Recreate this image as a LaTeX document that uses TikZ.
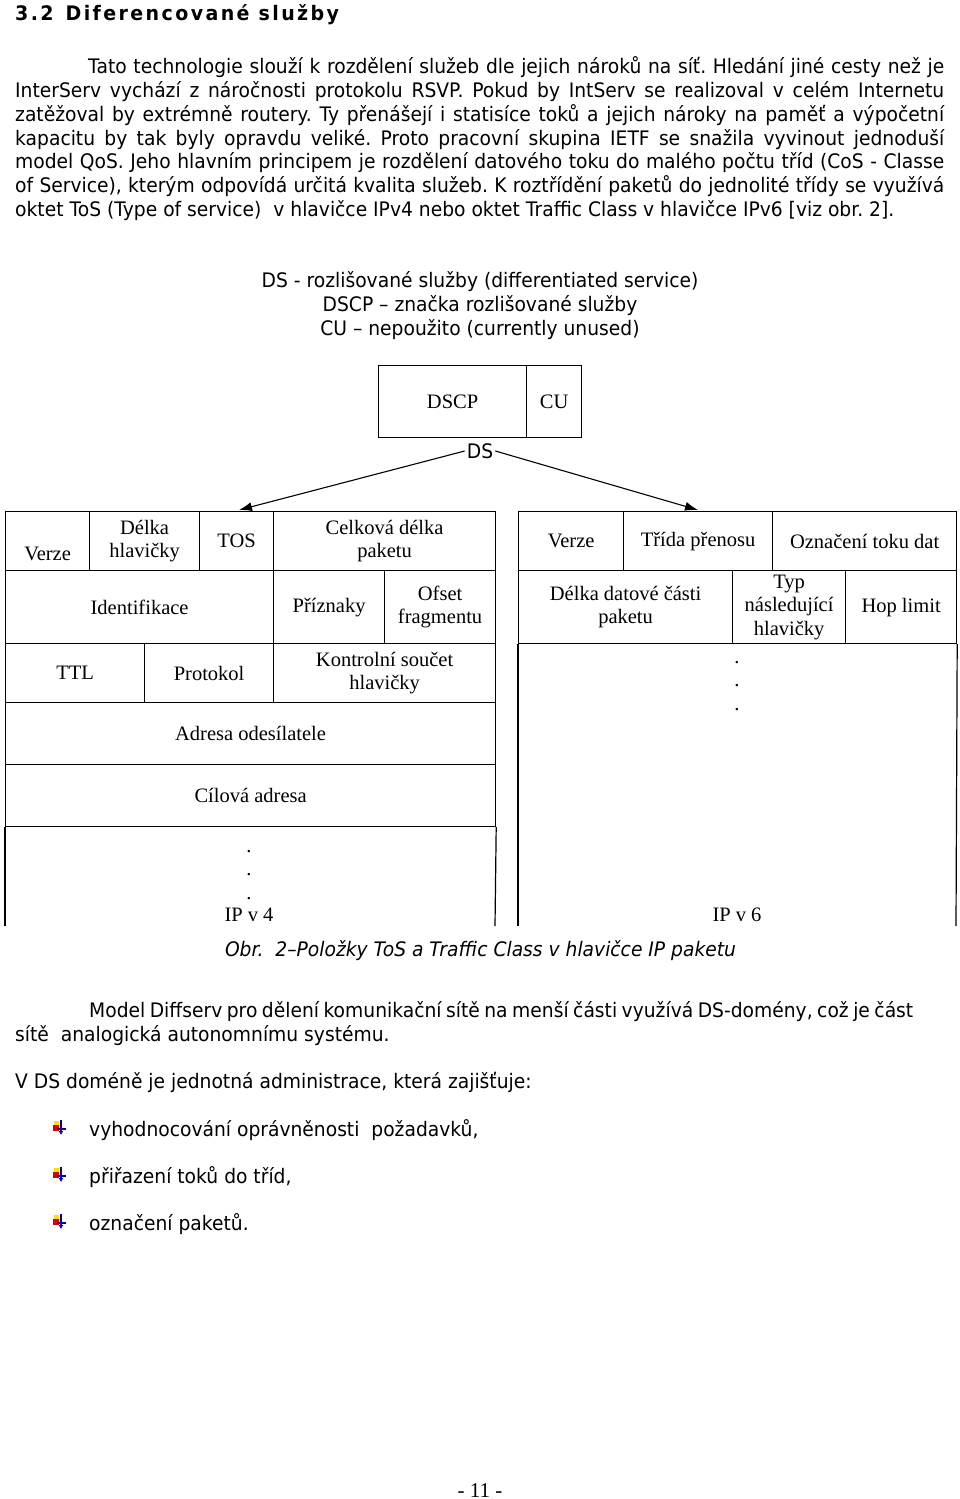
\documentclass[tikz,border=0pt]{standalone}
\usepackage{fontspec}
\setmainfont{Liberation Serif}
\newfontfamily\bodyf[FakeStretch=0.935]{DejaVu Sans}
\newfontfamily\headf[FakeStretch=0.95,LetterSpace=12]{DejaVu Sans}
\usetikzlibrary{arrows.meta}
\newcommand\bsz{\bodyf\fontsize{20}{23}\selectfont\frenchspacing}
\newcommand\ssz{\fontsize{20.5}{23.5}\selectfont}
\newcommand\bulleticon[1]{%
  \fill[yellow!85!orange] (54,#1-8) rectangle (59,#1-3);
  \fill[red!85!black] (53,#1-4) rectangle (59,#1+2);
  \draw[blue!70!black, line width=1.2pt] (57,#1) -- (66,#1);
  \draw[blue!70!black, line width=1.6pt, -{Latex[length=4pt,width=5pt]}] (61,#1-9) -- (61,#1+6);
}
\begin{document}
\begin{tikzpicture}[x=1pt,y=-1pt,
  body/.style={anchor=base west, inner sep=0, font=\bsz},
  legend/.style={anchor=base, inner sep=0, font=\bsz},
  cellb/.style={draw, line width=1.2pt, anchor=north west, inner sep=0, align=center, font=\ssz},
  txt/.style={inner sep=0, align=center, font=\ssz},
  frame/.style={line width=1.2pt},
  arr/.style={line width=1.1pt, -{Latex[length=13pt,width=9pt]}}]
\useasboundingbox[fill=white] (0,0) rectangle (960,1499);

% heading
\node[anchor=base west, inner sep=0, font=\headf\bfseries\fontsize{20}{22}\selectfont] (head) at (15,20) {3.2\hspace{12pt}Diferencované služby};

% paragraph 1
\node[body] (l1) at (88,73) {\makebox[856pt][s]{Tato technologie slouží k rozdělení služeb dle jejich nároků na síť. Hledání jiné cesty než je}};
\node[body] (l2) at (15,97) {\makebox[929pt][s]{InterServ vychází z náročnosti protokolu RSVP. Pokud by IntServ se realizoval v celém Internetu}};
\node[body] (l3) at (15,121) {\makebox[929pt][s]{zatěžoval by extrémně routery. Ty přenášejí i statisíce toků a jejich nároky na paměť a výpočetní}};
\node[body] (l4) at (15,145) {\makebox[929pt][s]{kapacitu by tak byly opravdu veliké. Proto pracovní skupina IETF se snažila vyvinout jednoduší}};
\node[body] (l5) at (15,168) {\makebox[929pt][s]{model QoS. Jeho hlavním principem je rozdělení datového toku do malého počtu tříd (CoS - Classe}};
\node[body] (l6) at (15,192) {\makebox[929pt][s]{of Service), kterým odpovídá určitá kvalita služeb. K roztřídění paketů do jednolité třídy se využívá}};
\node[body] (l7) at (15,216) {oktet ToS (Type of service)\ \ v hlavičce IPv4 nebo oktet Traffic Class v hlavičce IPv6 [viz obr. 2].};

% legend
\node[legend] (g1) at (480,287) {DS - rozlišované služby (differentiated service)};
\node[legend] (g2) at (480,311) {DSCP – značka rozlišované služby};
\node[legend] (g3) at (480,335) {CU – nepoužito (currently unused)};

% DS byte
\node[cellb, minimum width=148pt, minimum height=72pt] (dscp) at (378,365) {DSCP};
\node[cellb, minimum width=55pt, minimum height=72pt] (cu) at (526,365) {CU};
\node[inner sep=2pt, font=\bsz] (ds) at (480,451) {DS};
\coordinate (v4top) at (239,510);
\coordinate (v6top) at (698,510);
\draw[arr] (ds.west) -- (v4top);
\draw[arr] (ds.east) -- (v6top);

% IPv4 header
\node[cellb, minimum width=84pt, minimum height=59pt] (a1) at (5,511) {\strut\\Verze};
\node[cellb, minimum width=110pt, minimum height=59pt] (a2) at (89,511) {Délka\\hlavičky};
\node[cellb, minimum width=74pt, minimum height=59pt] (a3) at (199,511) {TOS};
\node[cellb, minimum width=222pt, minimum height=59pt] (a4) at (273,511) {Celková délka\\paketu};
\node[cellb, minimum width=268pt, minimum height=73pt] (b1) at (5,570) {Identifikace};
\node[cellb, minimum width=111pt, minimum height=73pt] (b2) at (273,570) {Příznaky};
\node[cellb, minimum width=111pt, minimum height=73pt] (b3) at (384,570) {Ofset\\fragmentu};
\node[cellb, minimum width=139pt, minimum height=59pt] (c1) at (5,643) {TTL};
\node[cellb, minimum width=129pt, minimum height=59pt] (c2) at (144,643) {Protokol};
\node[cellb, minimum width=222pt, minimum height=59pt] (c3) at (273,643) {Kontrolní součet\\hlavičky};
\node[cellb, minimum width=490pt, minimum height=62pt] (d1) at (5,702) {Adresa odesílatele};
\node[cellb, minimum width=490pt, minimum height=62pt] (e1) at (5,764) {Cílová adresa};
\coordinate (v4bl) at (5,926);
\coordinate (v4br) at (495,926);
\draw[frame] (e1.south west) -- (v4bl);
\draw[frame] (e1.south east) -- (v4br);
\node[txt, anchor=base] (v4d1) at (249,852) {.};
\node[txt, anchor=base] (v4d2) at (249,875) {.};
\node[txt, anchor=base] (v4d3) at (249,899) {.};
\node[txt] (v4lab) at (249,915) {IP v 4};

% IPv6 header
\node[cellb, minimum width=105pt, minimum height=59pt] (f1) at (518,511) {Verze};
\node[cellb, minimum width=149pt, minimum height=59pt] (f2) at (623,511) {Třída přenosu};
\node[cellb, minimum width=184pt, minimum height=59pt] (f3) at (772,511) {Označení toku dat};
\node[cellb, minimum width=214pt, minimum height=73pt] (h1) at (518,570) {Délka datové části\\paketu};
\node[cellb, minimum width=113pt, minimum height=73pt] (h2) at (732,570) {Typ\\následující\\hlavičky};
\node[cellb, minimum width=111pt, minimum height=73pt] (h3) at (845,570) {Hop limit};
\coordinate (v6bl) at (518,926);
\coordinate (v6br) at (956,926);
\draw[frame] (h1.south west) -- (v6bl);
\draw[frame] (h3.south east) -- (v6br);
\node[txt, anchor=base] (v6d1) at (737,663) {.};
\node[txt, anchor=base] (v6d2) at (737,686) {.};
\node[txt, anchor=base] (v6d3) at (737,710) {.};
\node[txt] (v6lab) at (737,915) {IP v 6};

% caption
\node[anchor=base, inner sep=0, font=\bsz\itshape] (cap) at (480.5,956) {Obr.\ \ 2–Položky ToS a Traffic Class v hlavičce IP paketu};

% paragraph 2
\node[body] (p1) at (89,1017) {\makebox[824pt][s]{Model Diffserv pro dělení komunikační sítě na menší části využívá DS-domény, což je část}};
\node[body] (p2) at (15,1041) {sítě\ \ analogická autonomnímu systému.};
\node[body] (p3) at (15,1088) {V DS doméně je jednotná administrace, která zajišťuje:};

\bulleticon{1129}
\bulleticon{1176}
\bulleticon{1223}
\node[body] (i1) at (89,1136) {vyhodnocování oprávněnosti\ \ požadavků,};
\node[body] (i2) at (89,1183) {přiřazení toků do tříd,};
\node[body] (i3) at (89,1230) {označení paketů.};

\node[anchor=base, inner sep=0, font=\fontsize{21}{24}\selectfont] (pg) at (480,1497) {- 11 -};
\end{tikzpicture}
\end{document}
